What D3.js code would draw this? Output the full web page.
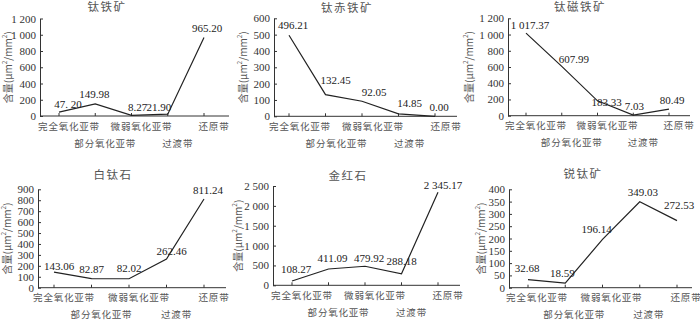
<!DOCTYPE html>
<html>
<head>
<meta charset="utf-8">
<script src="https://cdn.jsdelivr.net/npm/d3@7"></script>
<style>
  body { margin: 0; background: #fff; }
  svg { display: block; }
  .tick text { font-family: "Liberation Serif", serif; font-size: 11px; fill: #333; }
  .cat { font-family: "Noto Sans CJK SC", sans-serif; font-size: 9.5px; fill: #555; }
  .ttl { font-family: "Noto Sans CJK SC", sans-serif; font-size: 11.5px; fill: #555; }
  .val { font-family: "Liberation Serif", serif; font-size: 11px; fill: #222; }
  .ylab { font-family: "Noto Sans CJK SC", sans-serif; font-size: 10px; fill: #555; }
</style>
</head>
<body>
<div class="svg-container"></div>
<script>
// zones along the x axis
var categories = ["完全氧化亚带", "部分氧化亚带", "微弱氧化亚带", "过渡带", "还原带"];
var titles = ["钛铁矿", "钛赤铁矿", "钛磁铁矿", "白钛石", "金红石", "锐钛矿"];

// content, um2/mm2
var ilmenite     = [47.20, 149.98, 8.27, 21.90, 965.20];
var titanohem    = [496.21, 132.45, 92.05, 14.85, 0.00];
var titanomag    = [1017.37, 607.99, 183.33, 7.03, 80.49];
var leucoxene    = [143.06, 82.87, 82.02, 262.46, 811.24];
var rutile       = [108.27, 411.09, 479.92, 288.18, 2345.17];
var anatase      = [32.68, 18.59, 196.14, 349.03, 272.53];
var series = [ilmenite, titanohem, titanomag, leucoxene, rutile, anatase];

// printed value labels (as in the figure)
var ilmeniteLbl  = ["47. 20", "149.98", "8.27", "21.90", "965.20"];
var titanohemLbl = ["496.21", "132.45", "92.05", "14.85", "0.00"];
var titanomagLbl = ["1 017.37", "607.99", "183.33", "7.03", "80.49"];
var leucoxeneLbl = ["143.06", "82.87", "82.02", "262.46", "811.24"];
var rutileLbl    = ["108.27", "411.09", "479.92", "288.18", "2 345.17"];
var anataseLbl   = ["32.68", "18.59", "196.14", "349.03", "272.53"];
var labels = [ilmeniteLbl, titanohemLbl, titanomagLbl, leucoxeneLbl, rutileLbl, anataseLbl];

// y axis max and tick step
var yMax  = [1200, 600, 1200, 900, 2500, 400];
var yStep = [200, 100, 200, 100, 500, 50];

// layout: axis x, top, bottom, first/last category x, axis end, title pos, y label x, label shift
var layout = [
  {l: 40,  t: 18.5, b: 116,   x0: 59,  x1: 204, r: 229, tx: 107, ty: 8,   yl: 9,   cs: 10},
  {l: 274, t: 18.3, b: 116.3, x0: 289, x1: 435, r: 457, tx: 347, ty: 8.5, yl: 244, cs: 11},
  {l: 508, t: 18.3, b: 115.7, x0: 526, x1: 669, r: 690, tx: 580, ty: 8,   yl: 470, cs: 10},
  {l: 38,  t: 189.3,b: 287.7, x0: 54,  x1: 204, r: 226, tx: 113, ty: 176, yl: 8,   cs: 10},
  {l: 273, t: 186,  b: 285.3, x0: 292, x1: 438, r: 460, tx: 348, ty: 176.5, yl: 239, cs: 10},
  {l: 509, t: 189.3,b: 287.7, x0: 528, x1: 677, r: 692, tx: 583, ty: 175, yl: 482, cs: 9}
];
// value label offsets from the point
var offs = [
  [[9,-7],[-1,-8],[6,-7],[-9,-6],[3,-8]],
  [[4,-9],[10,-13],[12,-8],[11,-9],[4,-8]],
  [[4,-7],[12,-6],[9,3],[1,-8],[3,-8]],
  [[5,-5],[0,-8],[0,-9],[5,-7],[4,-8]],
  [[4,-11],[4,-10],[4,-7],[0,-11],[5,-6]],
  [[-1,-10],[-3,-9],[-6,-9],[3,-8],[2,-14]]
];

var w = 700, h = 320;
var svg = d3.select(".svg-container").append("svg")
    .attr("width", w).attr("height", h);
svg.append("rect").attr("width", w).attr("height", h).attr("fill", "#fff");

var fmt = function(d) { return d3.format(",")(d).replace(/,/g, " "); };

series.forEach(function(vals, i) {
    var p = layout[i];
    var g = svg.append("g");

    var y = d3.scaleLinear().domain([0, yMax[i]]).range([p.b, p.t]);
    var x = d3.scalePoint().domain(categories).range([p.x0, p.x1]);

    var yAxis = g.append("g")
        .attr("transform", "translate(" + p.l + ",0)")
        .call(d3.axisLeft(y)
            .tickValues(d3.range(0, yMax[i] + 1, yStep[i]))
            .tickFormat(fmt)
            .tickSizeInner(-3).tickSizeOuter(0).tickPadding(4));
    yAxis.select(".domain").attr("stroke", "#333");
    yAxis.selectAll(".tick line").attr("stroke", "#333");

    // x axis
    g.append("line")
        .attr("x1", p.l).attr("x2", p.r)
        .attr("y1", p.b).attr("y2", p.b)
        .attr("stroke", "#333");
    g.selectAll(".xt").data(categories).enter().append("line")
        .attr("x1", function(d) { return x(d); })
        .attr("x2", function(d) { return x(d); })
        .attr("y1", p.b).attr("y2", p.b - 3)
        .attr("stroke", "#333");
    g.selectAll(".cat").data(categories).enter().append("text")
        .attr("class", "cat")
        .attr("x", function(d) { return x(d) + p.cs; })
        .attr("y", function(d, k) { return p.b + (k % 2 ? 28 : 11); })
        .attr("text-anchor", "middle")
        .attr("dominant-baseline", "middle")
        .attr("letter-spacing", 0.8)
        .text(function(d) { return d; });

    // title
    g.append("text").attr("class", "ttl")
        .attr("x", p.tx).attr("y", p.ty)
        .attr("text-anchor", "middle").attr("dominant-baseline", "middle")
        .attr("letter-spacing", 1.5)
        .text(titles[i]);

    // y label
    var yl = g.append("text").attr("class", "ylab")
        .attr("transform", "translate(" + p.yl + "," + ((p.t + p.b) / 2) + ") rotate(-90)")
        .attr("text-anchor", "middle").attr("dominant-baseline", "middle");
    yl.append("tspan").text("含量(μm");
    yl.append("tspan").attr("font-size", "6.5px").attr("dy", -4).text("2");
    yl.append("tspan").attr("dy", 4).text("/mm");
    yl.append("tspan").attr("font-size", "6.5px").attr("dy", -4).text("2");
    yl.append("tspan").attr("dy", 4).text(")");

    // line
    var line = d3.line()
        .x(function(d, k) { return x(categories[k]); })
        .y(function(d) { return y(d); });
    g.append("path").datum(vals)
        .attr("d", line)
        .attr("fill", "none")
        .attr("stroke", "#222")
        .attr("stroke-width", 1.2);

    // value labels
    g.selectAll(".val").data(vals).enter().append("text")
        .attr("class", "val")
        .attr("x", function(d, k) { return x(categories[k]) + offs[i][k][0]; })
        .attr("y", function(d, k) { return y(d) + offs[i][k][1]; })
        .attr("text-anchor", "middle").attr("dominant-baseline", "middle")
        .text(function(d, k) { return labels[i][k]; });
});
</script>
</body>
</html>
